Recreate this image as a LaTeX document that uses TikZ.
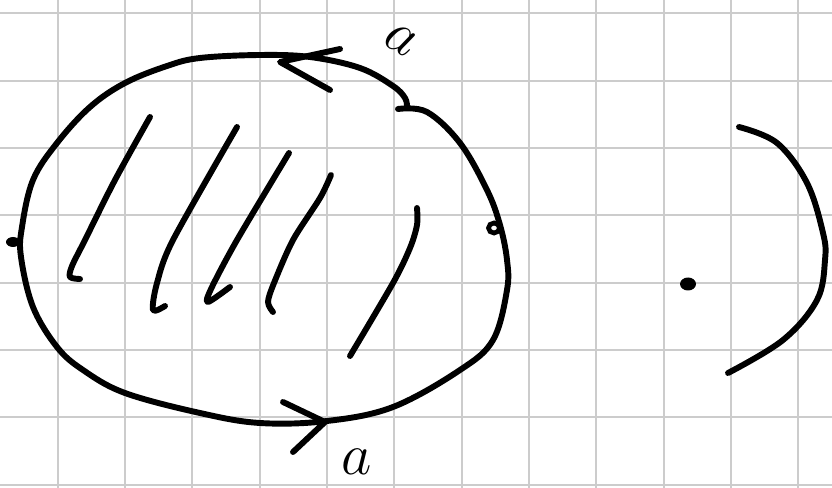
\documentclass[tikz,border=0pt]{standalone}
\begin{document}
\begin{tikzpicture}[x=0.01484cm,y=-0.01484cm,
        gridline/.style={draw=black!20,line width=0.85pt},
        pen/.style={draw=black,line width=2.5pt,line cap=round,line join=round},
        letter/.style={inner sep=0pt,font=\fontsize{25}{25}\selectfont}]
            \useasboundingbox (0,0) rectangle (832,488);
            \fill[white] (0,0) rectangle (832,488);
            % squared paper
            \foreach \i in {0,...,11}
                \draw[gridline] ({57.6+67.35*\i},0) -- ({57.6+67.35*\i},488);
            \foreach \j in {0,...,7}
                \draw[gridline] (0,{13.3+67.35*\j}) -- (832,{13.3+67.35*\j});
            % closed curve
            \draw[pen] plot[smooth,tension=0.6] coordinates {
                (398,109) (427,112) (460,143) (487,190) (500,225) (507,260)
                (507,290) (493,340) (460,370) (393,407) (327,421) (260,423)
                (200,413) (125,393) (83,370) (57,347) (33,307) (21,257)
                (22,227) (33,180) (57,143) (90,107) (125,83) (167,66)
                (200,58) (260,55) (310,57) (360,68) (393,86) (405,98) (407,107)};
            \draw[pen] (340,49) -- (280,62) -- (330,90);
            \draw[pen] (283,402) -- (325,422) -- (293,452);
            % hatching
            \draw[pen] plot[smooth,tension=0.5] coordinates {(150,117) (115,180) (85,240) (72,266) (70,277) (80,279)};
            \draw[pen] plot[smooth,tension=0.5] coordinates {(237,127) (173,240) (157,283) (153,310) (165,306)};
            \draw[pen] plot[smooth,tension=0.5] coordinates {(289,153) (237,240) (211,289) (208,302) (230,287)};
            \draw[pen] plot[smooth,tension=0.5] coordinates {(331,175) (320,198) (293,240) (274,283) (268,302) (273,312)};
            \draw[pen] plot[smooth,tension=0.5] coordinates {(417,208) (417,225) (410,248) (393,283) (350,356)};
            % points
            \coordinate (left) at (13,242);
            \coordinate (right) at (494,228);
            \coordinate (inner) at (688,284);
            \fill (left) ellipse [x radius=7,y radius=5];
            \draw[line width=2pt] (right) ellipse [x radius=5.5,y radius=5];
            \fill (inner) ellipse [x radius=8,y radius=6.5];
            % outer arc
            \draw[pen] plot[smooth,tension=0.6] coordinates {
                (739,127) (777,143) (807,183) (823,233) (825,260) (817,300) (783,340) (728,373)};
            % labels
            \node[letter,rotate=-30] (atop) at (401,40) {$a$};
            \node[letter] (abottom) at (357,462) {$a$};
        \end{tikzpicture}
\end{document}
